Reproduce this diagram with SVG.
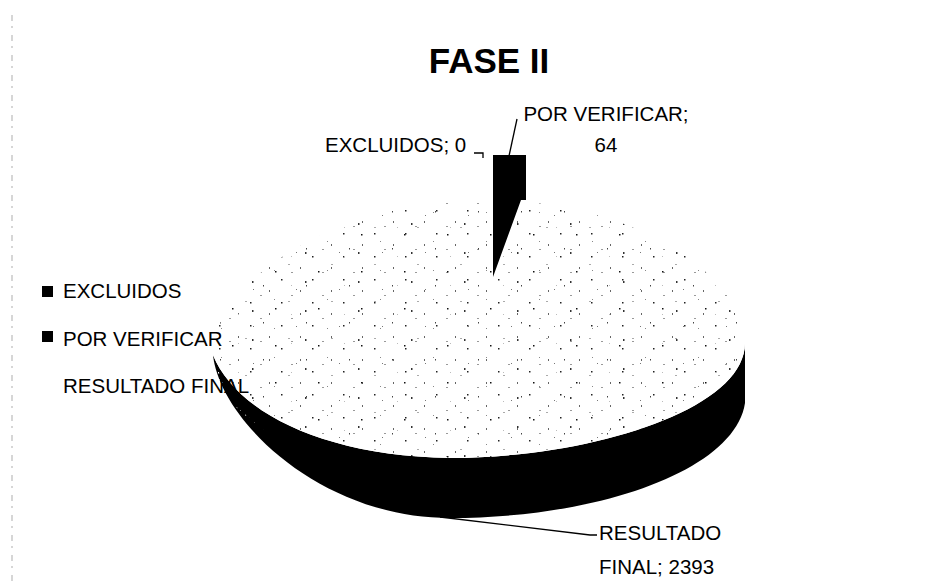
<svg xmlns="http://www.w3.org/2000/svg" width="950" height="581" viewBox="0 0 950 581">
<style>
.t{font-family:"Liberation Sans",Arial,sans-serif;font-size:20.5px;fill:#000}
.title{font-family:"Liberation Sans",Arial,sans-serif;font-size:35px;font-weight:bold;fill:#000}
.ld{fill:none;stroke:#000;stroke-width:1.3}
</style>
<defs>
<path id="face" d="M745,343 C745,410 590,458 450,458 C320,456 235,410 213,355 C212,280 340,200 485,200 C640,200 745,280 745,343 Z"/>
<pattern id="sp1" patternUnits="userSpaceOnUse" width="31" height="23">
<rect x="2" y="3" width="1.5" height="1.5" fill="#222"/>
<rect x="21" y="14" width="1" height="2" fill="#666"/>
<rect x="12" y="19" width="2" height="1" fill="#999"/>
</pattern>
<pattern id="sp2" patternUnits="userSpaceOnUse" width="43" height="37">
<rect x="5" y="26" width="1" height="1.5" fill="#444"/>
<rect x="30" y="5" width="2" height="1" fill="#aaa"/>
<rect x="17" y="12" width="1.5" height="1.5" fill="#111"/>
<rect x="38" y="30" width="1" height="1" fill="#777"/>
</pattern>
<pattern id="sp4" patternUnits="userSpaceOnUse" width="53" height="29">
<rect x="40" y="20" width="1.5" height="2" fill="#333"/>
<rect x="9" y="9" width="1" height="1" fill="#888"/>
<rect x="26" y="24" width="1" height="1" fill="#bbb"/>
</pattern>
<pattern id="sp3" patternUnits="userSpaceOnUse" width="9" height="7">
<rect x="2" y="1" width="1.5" height="1.5" fill="#fff"/>
<rect x="6" y="4" width="1" height="1" fill="#ccc"/>
</pattern>
</defs>
<line x1="12" y1="15" x2="12" y2="581" stroke="#bbb" stroke-width="1.2" stroke-dasharray="6 5 2 7"/>
<text class="title" x="489" y="73" text-anchor="middle">FASE II</text>
<g id="pie">
<g id="resultado-final">
<path id="side" d="M745,343 C745,410 590,458 450,458 C320,456 235,410 213,355 C220,420 320,518 450,518 C600,518 735,470 745,403 Z" fill="#000"/>
<path d="M213,355 C215,380 225,395 240,410 L275,440 C250,425 235,405 228,398 Z" fill="url(#sp3)"/>
<use href="#face" fill="#fff"/>
<use href="#face" fill="url(#sp1)"/>
<use href="#face" fill="url(#sp2)"/>
<use href="#face" fill="url(#sp4)"/>
</g>
<g id="por-verificar">
<polygon points="493,155 526,155 526,200 521,200 493,277" fill="#000"/>
</g>
</g>
<g id="connectors">
<polyline class="ld" points="474,153 483,153 483,158"/>
<polyline class="ld" points="509,156 517,119"/>
<polyline class="ld" points="440,517 590,535 597,535"/>
</g>
<g id="labels">
<text class="t" x="325" y="152">EXCLUIDOS; 0</text>
<text class="t" x="606" y="121" text-anchor="middle">POR VERIFICAR;</text>
<text class="t" x="606" y="152" text-anchor="middle">64</text>
<text class="t" x="599" y="540">RESULTADO</text>
<text class="t" x="599" y="574">FINAL; 2393</text>
</g>
<g id="legend">
<rect x="42" y="286" width="11" height="11" fill="#000"/>
<text class="t" x="63" y="298">EXCLUIDOS</text>
<rect x="42" y="331" width="11" height="11" fill="#000"/>
<text class="t" x="63" y="346">POR VERIFICAR</text>
<text class="t" x="63" y="393">RESULTADO FINAL</text>
</g>
</svg>
